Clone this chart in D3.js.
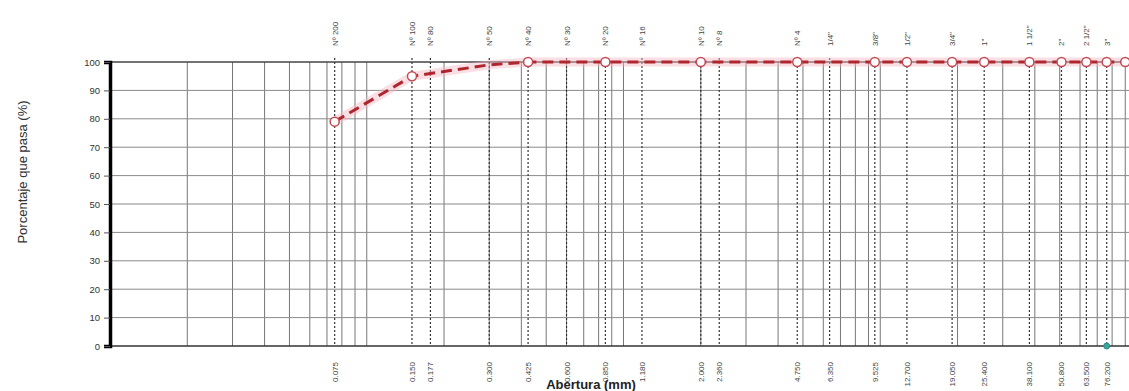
<!DOCTYPE html>
<html>
<head>
<meta charset="utf-8">
<script src="https://cdn.jsdelivr.net/npm/d3@7/dist/d3.min.js"></script>
<style>
  html, body { margin: 0; padding: 0; background: #fff; }
  svg { display: block; font-family: "Liberation Sans", Arial, sans-serif; }
</style>
</head>
<body>
<svg id="chart" width="1129" height="391"></svg>
<script>
// Sieve series (ASTM): names shown on top, openings in mm shown at the bottom
const sieveNames = ["Nº 200", "Nº 100", "Nº 80", "Nº 50", "Nº 40", "Nº 30", "Nº 20", "Nº 16", "Nº 10", "Nº 8",
  "Nº 4", "1/4\"", "3/8\"", "1/2\"", "3/4\"", "1\"", "1 1/2\"", "2\"", "2 1/2\"", "3\""];
const sieveOpenings = [0.075, 0.150, 0.177, 0.300, 0.425, 0.600, 0.850, 1.180, 2.000, 2.360,
  4.750, 6.350, 9.525, 12.700, 19.050, 25.400, 38.100, 50.800, 63.500, 76.200];

// Grading curve: opening (mm) vs. percentage passing
const curveSizes   = [0.075, 0.150, 0.300, 0.425, 0.850, 2.000, 4.750, 9.525, 12.700, 19.050, 25.400, 38.100, 50.800, 63.500, 76.200, 90.0];
const curvePassing = [79,    95,    99,    100,   100,   100,   100,   100,   100,    100,    100,    100,    100,    100,    100,    100];
const curveMarked  = [true,  true,  false, true,  true,  true,  true,  true,  true,   true,   true,   true,   true,   true,   true,   true];

// Single reference point on the baseline
const basePointSize = [76.2];
const basePointValue = [0];

const yTicks = [0, 10, 20, 30, 40, 50, 60, 70, 80, 90, 100];

const svg = d3.select("#chart");
const mLeft = 110, mTop = 62, mBottom = 346, mRight = 1137;

const x = d3.scaleLog().domain([0.01, 100]).range([mLeft, mRight]);
const y = d3.scaleLinear().domain([0, 100]).range([mBottom, mTop]);

// Log grid lines (1..9 per decade)
const gridVals = [];
for (let e = -2; e <= 1; e++) {
  for (let m = 1; m <= 9; m++) gridVals.push(m * Math.pow(10, e));
}
gridVals.push(100);

const g = svg.append("g");

g.selectAll("line.vgrid").data(gridVals.filter(v => v > 0.01)).enter().append("line")
  .attr("class", "vgrid")
  .attr("x1", d => x(d)).attr("x2", d => x(d))
  .attr("y1", mTop).attr("y2", mBottom)
  .attr("stroke", "#777").attr("stroke-width", 1);

g.selectAll("line.hgrid").data(yTicks.filter(t => t > 0 && t < 100)).enter().append("line")
  .attr("class", "hgrid")
  .attr("x1", mLeft).attr("x2", mRight)
  .attr("y1", d => y(d)).attr("y2", d => y(d))
  .attr("stroke", "#8a8a8a").attr("stroke-width", 1);

// Sieve lines (dotted)
g.selectAll("line.sieve").data(sieveOpenings).enter().append("line")
  .attr("class", "sieve")
  .attr("x1", d => x(d)).attr("x2", d => x(d))
  .attr("y1", mTop - 4).attr("y2", mBottom)
  .attr("stroke", "#333").attr("stroke-width", 1.2)
  .attr("stroke-dasharray", "2,2");

// Frame: top border, bottom axis, thick left axis
g.append("line").attr("x1", mLeft).attr("x2", mRight).attr("y1", y(100)).attr("y2", y(100))
  .attr("stroke", "#444").attr("stroke-width", 1.6);
g.append("line").attr("x1", mLeft).attr("x2", mRight).attr("y1", y(0)).attr("y2", y(0))
  .attr("stroke", "#333").attr("stroke-width", 1.6);

// Y axis
const yAxis = d3.axisLeft(y).tickValues(yTicks).tickSize(6).tickPadding(4);
const ya = svg.append("g").attr("transform", `translate(${mLeft},0)`).call(yAxis);
ya.select(".domain").attr("stroke", "#000").attr("stroke-width", 3.5);
ya.selectAll(".tick line").attr("stroke", "#555");
ya.selectAll(".tick text").attr("fill", "#333").style("font-size", "9.5px").style("font-family", "Liberation Sans, Arial, sans-serif");

// Top labels: sieve names
svg.selectAll("text.sname").data(sieveNames).enter().append("text")
  .attr("class", "sname")
  .attr("transform", (d, i) => `translate(${x(sieveOpenings[i]) + 3},46) rotate(-90)`)
  .attr("text-anchor", "start")
  .attr("fill", "#444")
  .style("font-size", "8px")
  .text(d => d);

// Bottom labels: openings
svg.selectAll("text.sopen").data(sieveOpenings).enter().append("text")
  .attr("class", "sopen")
  .attr("transform", d => `translate(${x(d) + 3},362) rotate(-90)`)
  .attr("text-anchor", "end")
  .attr("fill", "#444")
  .style("font-size", "8px")
  .text(d => d3.format(".3f")(d));

// Grading curve
const pts = curveSizes.map((s, i) => ({ s, p: curvePassing[i], m: curveMarked[i] }));
const line = d3.line().x(d => x(d.s)).y(d => y(d.p));

svg.append("path").datum(pts).attr("d", line)
  .attr("fill", "none").attr("stroke", "#f2b8c0").attr("stroke-width", 9).attr("opacity", 0.45);
svg.append("path").datum(pts).attr("d", line)
  .attr("fill", "none").attr("stroke", "#b0262f").attr("stroke-width", 3)
  .attr("stroke-dasharray", "11,6");

svg.selectAll("circle.pt").data(pts.filter(d => d.m)).enter().append("circle")
  .attr("class", "pt")
  .attr("cx", d => x(d.s)).attr("cy", d => y(d.p)).attr("r", 4.5)
  .attr("fill", "#fff").attr("stroke", "#c44a55").attr("stroke-width", 1.5);

svg.selectAll("circle.base").data(basePointSize).enter().append("circle")
  .attr("class", "base")
  .attr("cx", d => x(d)).attr("cy", (d, i) => y(basePointValue[i])).attr("r", 3)
  .attr("fill", "#3aa6a0").attr("stroke", "#2a8a86").attr("stroke-width", 1);

// Axis titles
svg.append("text")
  .attr("x", 591).attr("y", 389)
  .attr("text-anchor", "middle")
  .attr("fill", "#222")
  .style("font-size", "13px")
  .style("font-weight", "bold")
  .text("Abertura (mm)");

svg.append("text")
  .attr("transform", "translate(27,172) rotate(-90)")
  .attr("text-anchor", "middle")
  .attr("fill", "#333")
  .style("font-size", "13px")
  .text("Porcentaje que pasa (%)");
</script>
</body>
</html>
